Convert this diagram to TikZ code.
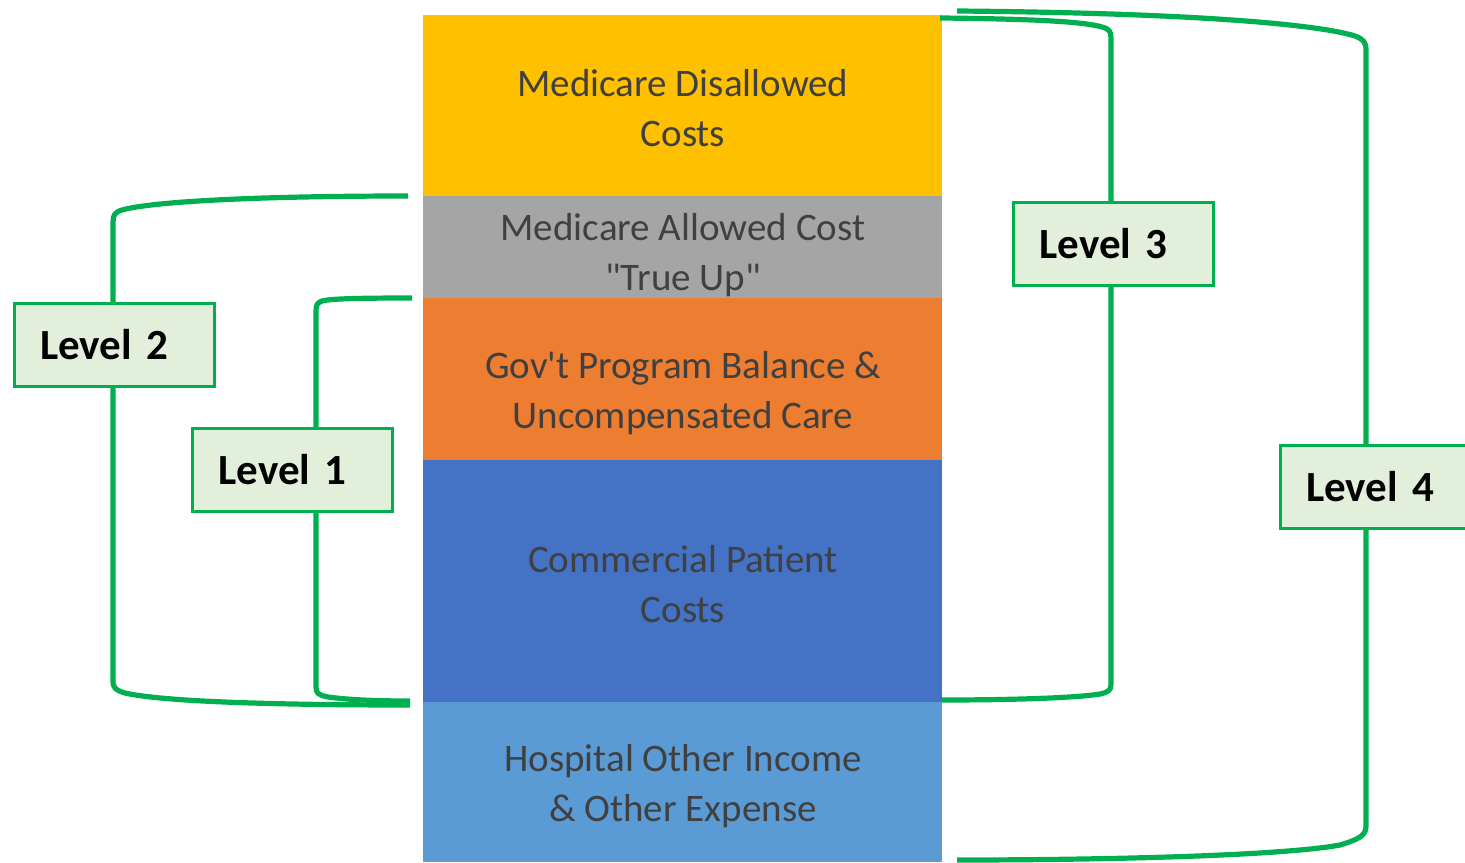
\documentclass[tikz,border=0pt]{standalone}
\usepackage{fontspec}
\setmainfont{Carlito}
\usepackage{xcolor}
\definecolor{costyellow}{HTML}{FFC000}
\definecolor{costgray}{HTML}{A5A5A5}
\definecolor{costorange}{HTML}{ED7D31}
\definecolor{costblue}{HTML}{4472C4}
\definecolor{costlight}{HTML}{5B9BD5}
\definecolor{costtext}{HTML}{404040}
\definecolor{lvgreen}{HTML}{00B050}
\definecolor{lvfill}{HTML}{E2EFDA}
\tikzset{
  layertext/.style={text=costtext, align=center, font=\fontsize{19.5}{25}\selectfont},
  bracket/.style={draw=lvgreen, line width=2.6pt},
  levelbox/.style={draw=lvgreen, line width=1.5pt, fill=lvfill, minimum height=41.5pt,
    text width=74pt, inner xsep=13pt, align=left, font=\bfseries\fontsize{21.5}{26}\selectfont}
}

\begin{document}
\begin{tikzpicture}[x=0.5pt, y=-0.5pt]
      \clip (0,0) rectangle (1465,862);
      % Cost layers
      \fill[costyellow] (423,15) rectangle (942,196);
      \fill[costgray] (423,196) rectangle (942,298);
      \fill[costorange] (423,298) rectangle (942,460);
      \fill[costblue] (423,460) rectangle (942,702);
      \fill[costlight] (423,702) rectangle (942,862);
      % Layer labels
      \node[layertext] (disallowed) at (683,108) {Medicare Disallowed\\Costs};
      \node[layertext] (allowed) at (683,255) {Medicare Allowed Cost\\\textquotedbl True Up\textquotedbl};
      \node[layertext] (govt) at (683,393) {Gov\textquotesingle t Program Balance \&\\Uncompensated Care};
      \node[layertext] (commercial) at (683,584) {Commercial Patient\\Costs};
      \node[layertext] (other) at (683,786) {Hospital Other Income\\\& Other Expense};
      % Bracket ends
      \coordinate (l1top) at (412,298);
      \coordinate (l1bot) at (410,701);
      \coordinate (l2top) at (408,196);
      \coordinate (l2bot) at (410,705);
      \coordinate (l3top) at (940,18);
      \coordinate (l3bot) at (942,700);
      \coordinate (l4top) at (957,11);
      \coordinate (l4bot) at (957,860);
      % Brackets
      \draw[bracket] (l2top) .. controls (250,196) and (150,202) .. (122,210)
        .. controls (115,212) and (113,215) .. (113,222) -- (113,680)
        .. controls (113,688) and (115,690) .. (125,693)
        .. controls (160,701) and (260,705) .. (l2bot);
      \draw[bracket] (l1top) .. controls (350,298) and (330,299) .. (322,301)
        .. controls (317,303) and (316,305) .. (316,311) -- (316,687)
        .. controls (316,693) and (318,695) .. (328,697)
        .. controls (350,700) and (380,701) .. (l1bot);
      \draw[bracket] (l3top) .. controls (1040,19) and (1085,22) .. (1102,27)
        .. controls (1109,29) and (1111,31) .. (1111,38) -- (1111,684)
        .. controls (1111,690) and (1109,692) .. (1100,694)
        .. controls (1075,698) and (1010,700) .. (l3bot);
      \draw[bracket] (l4top) .. controls (1200,13) and (1320,25) .. (1355,36)
        .. controls (1363,39) and (1366,42) .. (1366,50) -- (1366,826)
        .. controls (1366,835) and (1360,839) .. (1340,845)
        .. controls (1280,856) and (1100,860) .. (l4bot);
      % Level labels
      \node[levelbox] (lv2) at (114,344.5) {\raisebox{-3pt}{Level 2}};
      \node[levelbox] (lv1) at (292.5,470) {\raisebox{-3pt}{Level 1}};
      \node[levelbox] (lv3) at (1113.5,244) {\raisebox{-3pt}{Level 3}};
      \node[levelbox] (lv4) at (1380,486.5) {\raisebox{-3pt}{Level 4}};
    \end{tikzpicture}
\end{document}
